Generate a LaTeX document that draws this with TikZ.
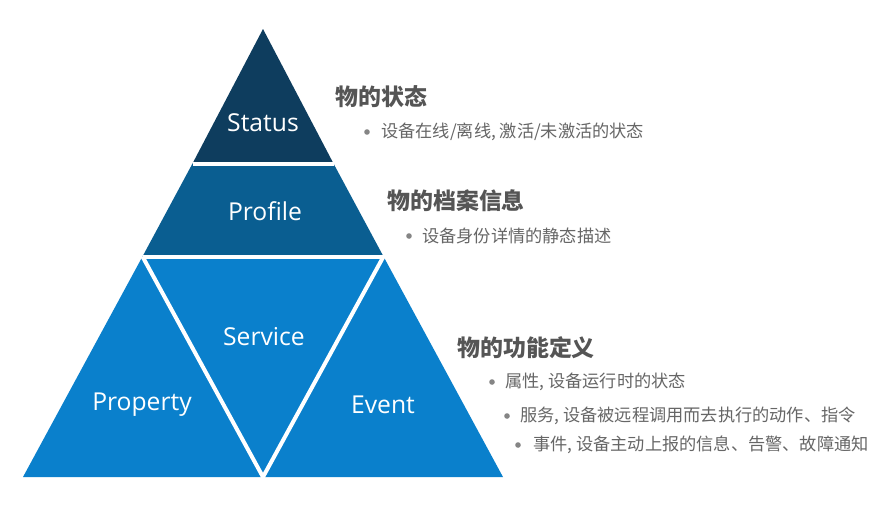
\documentclass[tikz,border=0pt]{standalone}
\usepackage{fontspec}
\setmainfont{Open Sans}
\newfontfamily\cjk{Noto Sans CJK SC}
\definecolor{cStatus}{HTML}{0E3D5E}
\definecolor{cProfile}{HTML}{0A5E91}
\definecolor{cBase}{HTML}{0A80CC}
\definecolor{cHead}{HTML}{555555}
\definecolor{cText}{HTML}{666666}
\tikzset{
  lbl/.style={text=white,font=\fontsize{18.5}{20}\selectfont,inner sep=0pt},
  head/.style={text=cHead,font=\cjk\bfseries\fontsize{17.2}{20}\selectfont,anchor=west,inner sep=0pt},
  item/.style={text=cText,font=\cjk\fontsize{12.9}{15}\selectfont,anchor=west,inner sep=0pt},
  dot/.style={circle,fill=cText!80,inner sep=0pt,minimum size=4.2pt},
  gap/.style={white,line width=3pt}
}
\begin{document}
\begin{tikzpicture}[x=0.75pt,y=-0.75pt]
\useasboundingbox (0,0) rectangle (881,526);
\fill[white] (0,0) rectangle (881,526);
% pyramid pieces
\coordinate (apex) at (263,29);
\coordinate (bl) at (23,477);
\coordinate (br) at (503,477);
\coordinate (sl) at (192.5,163.5);
\coordinate (sr) at (333.5,163.5);
\coordinate (pl) at (142.5,256.5);
\coordinate (pr) at (383.5,256.5);
\coordinate (bm) at (263,477);
\fill[cStatus] (apex) -- (sr) -- (sl) -- cycle;
\fill[cProfile] (sl) -- (sr) -- (pr) -- (pl) -- cycle;
\fill[cBase] (pl) -- (pr) -- (br) -- (bl) -- cycle;
\draw[gap] (sl) -- (sr);
\draw[gap] (pl) -- (pr);
\draw[gap] (pl) -- (bm) -- (pr);
% labels
\node[lbl] (status) at (263,123) {Status};
\node[lbl] (profile) at (265,211) {Profile};
\node[lbl] (service) at (264,337) {Service};
\node[lbl] (property) at (142,405) {Property};
\node[lbl] (event) at (383,405) {Event};
% text
\node[head] (h1) at (335,97) {物的状态};
\node[dot] (d1) at (367,132) {};
\node[item] (t1) at (381,132) {设备在线/离线, 激活/未激活的状态};
\node[head] (h2) at (387,201) {物的档案信息};
\node[dot] (d2) at (409,236) {};
\node[item] (t2) at (422,236) {设备身份详情的静态描述};
\node[head] (h3) at (457,348) {物的功能定义};
\node[dot] (d3) at (492,382) {};
\node[item] (t3) at (505,382) {属性, 设备运行时的状态};
\node[dot] (d4) at (507,416) {};
\node[item] (t4) at (520,416) {服务, 设备被远程调用而去执行的动作、指令};
\node[dot] (d5) at (518,445) {};
\node[item] (t5) at (533,445) {事件, 设备主动上报的信息、告警、故障通知};
\end{tikzpicture}
\end{document}
